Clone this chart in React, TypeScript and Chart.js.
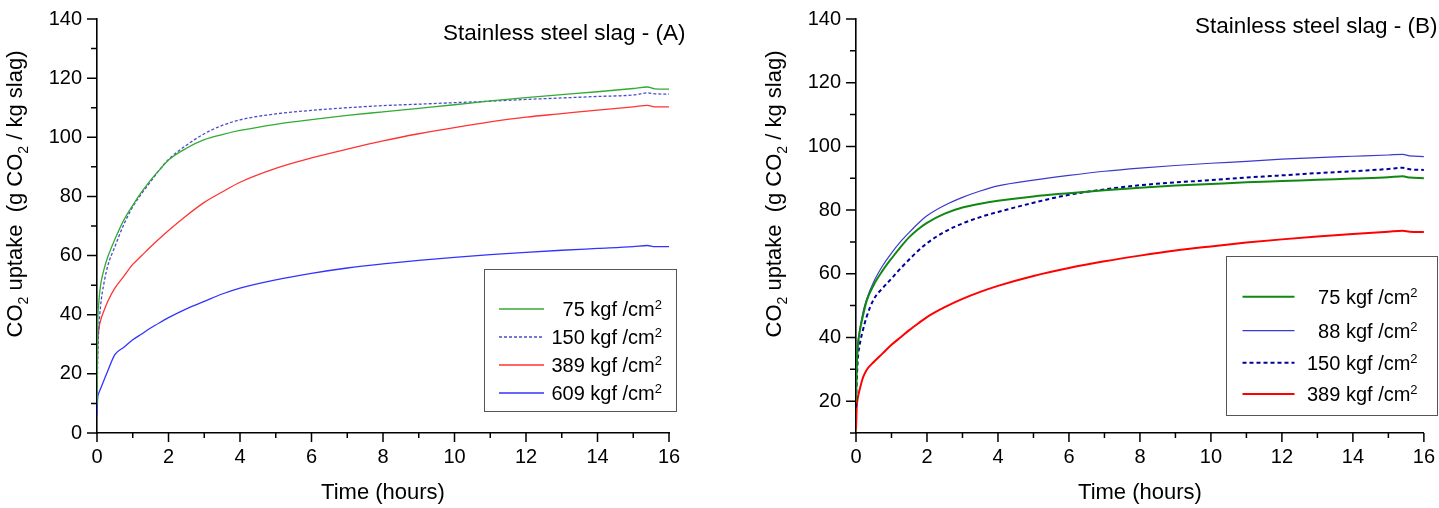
import { useEffect, useRef } from "react";
import { Chart, registerables, Plugin } from "chart.js";

Chart.register(...registerables);

const FONT = "'Liberation Sans', Arial, Helvetica, sans-serif";

// sampling times (hours), shared by every curve
const TIMES = [0, 0.02, 0.05, 0.1, 0.2, 0.3, 0.5, 0.75, 1, 1.25, 1.5, 1.75, 2, 2.5, 3, 3.5, 4, 5, 6, 7, 8, 9, 10, 11, 12, 13, 14, 15, 15.4, 15.6, 16];

// panel A
const A_75 = [10, 36, 44, 50, 55.5, 59.5, 65.5, 72, 77, 81.5, 85.5, 89, 92.3, 96.3, 99.2, 100.9, 102.3, 104.4, 106, 107.4, 108.6, 109.8, 111, 112.3, 113.4, 114.4, 115.4, 116.5, 117, 116.4, 116.3];
const A_150 = [8, 25, 35, 43, 51, 56.5, 63, 70.5, 76.5, 81, 85, 89, 92.5, 97.3, 101.2, 104, 105.9, 107.9, 109.1, 110, 110.7, 111.2, 111.7, 112.2, 112.8, 113.3, 113.8, 114.3, 115, 114.7, 114.6];
const A_389 = [15, 30, 35, 38, 41.5, 44.5, 49, 53, 57, 60, 63, 65.8, 68.5, 73.5, 78, 81.5, 84.8, 89.5, 93, 96, 98.8, 101.2, 103.3, 105.2, 106.8, 108, 109.2, 110.3, 110.8, 110.3, 110.3];
const A_609 = [6, 12, 13.5, 15, 18, 21, 26.5, 29, 31.5, 33.5, 35.5, 37.3, 39, 42, 44.5, 47, 49, 51.8, 54, 55.8, 57.2, 58.4, 59.4, 60.3, 61.1, 61.8, 62.4, 63, 63.4, 63, 63];

// panel B
const B_75 = [20, 30, 37, 41.5, 47, 51.5, 56.5, 61, 64.8, 68.3, 71.5, 74, 76, 78.9, 80.8, 82, 82.9, 84.3, 85.3, 86.2, 87, 87.7, 88.2, 88.7, 89.1, 89.5, 89.9, 90.3, 90.6, 90.2, 90];
const B_88 = [22, 32, 38, 42, 48, 52, 57.5, 62.5, 66.5, 70, 73, 75.8, 78.2, 81.5, 84, 86, 87.6, 89.4, 90.9, 92.2, 93.2, 94, 94.7, 95.3, 96, 96.5, 96.9, 97.3, 97.5, 97, 96.8];
const B_150 = [18, 26, 33, 37.5, 42.5, 46.5, 52, 55.5, 58.5, 61.6, 64.5, 67.2, 69.6, 73.2, 75.8, 77.8, 79.4, 82.3, 84.8, 86.5, 87.8, 88.7, 89.4, 90.2, 90.9, 91.6, 92.2, 92.9, 93.3, 92.8, 92.6];
const B_389 = [11, 18, 21, 23.5, 27.5, 29.8, 32.3, 35, 37.7, 40, 42.3, 44.4, 46.4, 49.5, 52.1, 54.3, 56.2, 59.3, 61.8, 63.9, 65.7, 67.3, 68.6, 69.8, 70.8, 71.7, 72.5, 73.2, 73.5, 73.2, 73.1];

const LABELS_A = ["75 kgf /cm²", "150 kgf /cm²", "389 kgf /cm²", "609 kgf /cm²"];
const LABELS_B = ["75 kgf /cm²", "88 kgf /cm²", "150 kgf /cm²", "389 kgf /cm²"];

const X_TICKS = [0, 2, 4, 6, 8, 10, 12, 14, 16];
const Y_TICKS_A = [0, 20, 40, 60, 80, 100, 120, 140];
const Y_TICKS_B = [20, 40, 60, 80, 100, 120, 140];

type Part = [string, "n" | "sub" | "sup"];

type Series = { label: string; values: number[]; color: string; width: number; dash: number[] };

type PanelCfg = {
  left: number;
  width: number;
  series: Series[];
  yMin: number;
  yTicks: number[];
  yAxisWidth: number;
  padRight: number;
  yTitleX: number;
  title: string;
  titleX: number;
  titleY: number;
  box: [number, number, number, number];
  lineX: [number, number];
  textRight: number;
  rows: number[];
};

function drawRich(ctx: CanvasRenderingContext2D, parts: Part[], x: number, y: number, size: number, small: number, align: "left" | "right" | "center") {
  const widths = parts.map(([t, k]) => {
    ctx.font = `${k === "n" ? size : small}px ${FONT}`;
    return ctx.measureText(t).width;
  });
  const total = widths.reduce((a, b) => a + b, 0);
  let cx = align === "left" ? x : align === "right" ? x - total : x - total / 2;
  ctx.textAlign = "left";
  ctx.textBaseline = "alphabetic";
  parts.forEach(([t, k], i) => {
    ctx.font = `${k === "n" ? size : small}px ${FONT}`;
    const dy = k === "sub" ? size * 0.28 : k === "sup" ? -size * 0.36 : 0;
    ctx.fillText(t, cx, y + dy);
    cx += widths[i];
  });
}

function labelParts(label: string): Part[] {
  return label.endsWith("²") ? [[label.slice(0, -1), "n"], ["2", "sup"]] : [[label, "n"]];
}

function decor(cfg: PanelCfg): Plugin<"line"> {
  return {
    id: "decor",
    afterDraw(chart) {
      const { ctx, chartArea: a } = chart;
      const xs = chart.scales.x;
      const ys = chart.scales.y;
      ctx.save();
      ctx.strokeStyle = "#000";
      ctx.lineWidth = 1.5;
      ctx.beginPath();
      for (let v = 0; v <= 16; v += 1) {
        const px = xs.getPixelForValue(v);
        ctx.moveTo(px, a.bottom);
        ctx.lineTo(px, a.bottom + (v % 2 === 0 ? 9 : 5));
      }
      for (let v = cfg.yMin; v <= 140; v += 10) {
        const py = ys.getPixelForValue(v);
        ctx.moveTo(a.left - (v % 20 === 0 ? 10 : 6), py);
        ctx.lineTo(a.left, py);
      }
      ctx.stroke();

      ctx.fillStyle = "#000";
      ctx.font = `22.5px ${FONT}`;
      ctx.textAlign = "left";
      ctx.textBaseline = "alphabetic";
      ctx.fillText(cfg.title, a.left + cfg.titleX, cfg.titleY);

      ctx.font = `22px ${FONT}`;
      ctx.textAlign = "center";
      ctx.fillText("Time (hours)", (a.left + a.right) / 2, 499);

      ctx.save();
      ctx.translate(cfg.yTitleX, 194);
      ctx.rotate(-Math.PI / 2);
      drawRich(ctx, [["CO", "n"], ["2", "sub"], [" uptake  (g CO", "n"], ["2", "sub"], [" / kg slag)", "n"]], 0, 0, 22, 14, "center");
      ctx.restore();

      // legend
      const [bx1, by1, bx2, by2] = cfg.box;
      ctx.strokeStyle = "#555";
      ctx.lineWidth = 1;
      ctx.strokeRect(a.left + bx1 + 0.5, by1 + 0.5, bx2 - bx1, by2 - by1);
      cfg.series.forEach((s, i) => {
        const y = cfg.rows[i];
        ctx.strokeStyle = s.color;
        ctx.lineWidth = s.width;
        ctx.setLineDash(s.dash);
        ctx.beginPath();
        ctx.moveTo(a.left + cfg.lineX[0], y);
        ctx.lineTo(a.left + cfg.lineX[1], y);
        ctx.stroke();
        ctx.setLineDash([]);
        ctx.fillStyle = "#000";
        drawRich(ctx, labelParts(s.label), a.left + cfg.textRight, y + 7, 20, 13, "right");
      });
      ctx.restore();
    },
  };
}

function Panel({ cfg }: { cfg: PanelCfg }) {
  const ref = useRef<HTMLCanvasElement | null>(null);
  useEffect(() => {
    if (!ref.current) return;
    const tickFont = { family: FONT, size: 20 };
    const chart = new Chart(ref.current, {
      type: "line",
      data: {
        datasets: cfg.series.map((s) => ({
          label: s.label,
          data: TIMES.map((t, i) => ({ x: t, y: s.values[i] })),
          borderColor: s.color,
          borderWidth: s.width,
          borderDash: s.dash,
          pointRadius: 0,
          fill: false,
          cubicInterpolationMode: "monotone" as const,
        })),
      },
      options: {
        animation: false,
        responsive: true,
        maintainAspectRatio: false,
        layout: { padding: { top: 12, right: cfg.padRight, bottom: 0, left: 0 } },
        plugins: { legend: { display: false }, tooltip: { enabled: false } },
        scales: {
          x: {
            type: "linear",
            min: 0,
            max: 16,
            afterBuildTicks: (s) => {
              s.ticks = X_TICKS.map((v) => ({ value: v }));
            },
            afterFit: (s) => {
              s.height = 75;
            },
            grid: { display: false, tickLength: 8 },
            border: { display: true, color: "#000", width: 1.6 },
            ticks: { color: "#000", font: tickFont, padding: 4, maxRotation: 0, autoSkip: false },
          },
          y: {
            type: "linear",
            min: cfg.yMin,
            max: 140,
            afterBuildTicks: (s) => {
              s.ticks = cfg.yTicks.map((v) => ({ value: v }));
            },
            afterFit: (s) => {
              s.width = cfg.yAxisWidth;
            },
            grid: { display: false, tickLength: 8 },
            border: { display: true, color: "#000", width: 1.6 },
            ticks: { color: "#000", font: tickFont, padding: 7, autoSkip: false },
          },
        },
      },
      plugins: [decor(cfg)],
    });
    return () => chart.destroy();
  }, [cfg]);

  return (
    <div style={{ position: "absolute", left: cfg.left, top: 0, width: cfg.width, height: 508 }}>
      <canvas ref={ref} />
    </div>
  );
}

const PANEL_A: PanelCfg = {
  left: 0,
  width: 720,
  series: [
    { label: LABELS_A[0], values: A_75, color: "#33aa33", width: 1.3, dash: [] },
    { label: LABELS_A[1], values: A_150, color: "#4a4acc", width: 1.3, dash: [3, 2] },
    { label: LABELS_A[2], values: A_389, color: "#ff3333", width: 1.3, dash: [] },
    { label: LABELS_A[3], values: A_609, color: "#3333ff", width: 1.3, dash: [] },
  ],
  yMin: 0,
  yTicks: Y_TICKS_A,
  yAxisWidth: 97,
  padRight: 51,
  yTitleX: 22,
  title: "Stainless steel slag - (A)",
  titleX: 346,
  titleY: 40,
  box: [387, 269, 579, 411],
  lineX: [402, 447],
  textRight: 565,
  rows: [309, 337, 365, 393],
};

const PANEL_B: PanelCfg = {
  left: 720,
  width: 719,
  series: [
    { label: LABELS_B[0], values: B_75, color: "#118811", width: 2, dash: [] },
    { label: LABELS_B[1], values: B_88, color: "#3a3acc", width: 1.2, dash: [] },
    { label: LABELS_B[2], values: B_150, color: "#000099", width: 2, dash: [4, 3] },
    { label: LABELS_B[3], values: B_389, color: "#ff0000", width: 2, dash: [] },
  ],
  yMin: 10,
  yTicks: Y_TICKS_B,
  yAxisWidth: 136,
  padRight: 11,
  yTitleX: 61,
  title: "Stainless steel slag - (B)",
  titleX: 339,
  titleY: 33,
  box: [370, 256, 581, 415],
  lineX: [386.5, 438.5],
  textRight: 561.6,
  rows: [296.7, 330.7, 362.7, 394],
};

export default function App() {
  return (
    <div style={{ position: "absolute", left: 0, top: 0, width: 1439, height: 508, background: "#fff" }}>
      <Panel cfg={PANEL_A} />
      <Panel cfg={PANEL_B} />
    </div>
  );
}
